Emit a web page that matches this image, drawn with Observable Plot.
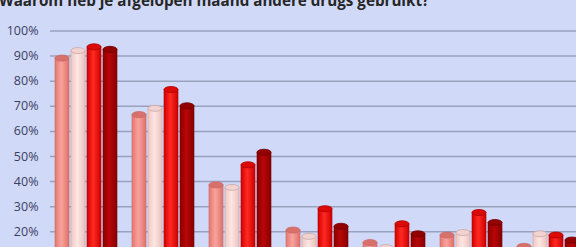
<!DOCTYPE html>
<html>
<head>
<meta charset="utf-8">
<script src="https://cdn.jsdelivr.net/npm/d3@7"></script>
<script src="https://cdn.jsdelivr.net/npm/@observablehq/plot@0.6"></script>
<style>
  html, body { margin: 0; padding: 0; background: #d1d9f9; overflow: hidden; }
  #wrap { position: relative; width: 576px; height: 247px; overflow: hidden; }
  #wrap svg { position: absolute; left: 0; top: 0; }
  #title { position: absolute; left: -1px; top: -10px; font: bold 15.2px/20px "Open Sans", sans-serif; color: #262626; white-space: nowrap; z-index: 2; }
</style>
</head>
<body>
<div id="wrap">
  <div id="title">Waarom heb je afgelopen maand andere drugs gebruikt?</div>
</div>
<script>
const title = "Waarom heb je afgelopen maand andere drugs gebruikt?";
const groups = ["Reden 1", "Reden 2", "Reden 3", "Reden 4", "Reden 5", "Reden 6", "Reden 7"];
const series = ["Reeks 1", "Reeks 2", "Reeks 3", "Reeks 4"];
const values1 = [89, 66.5, 38.5, 20.5, 15.5, 18.5, 14];
const values2 = [92, 69, 37.5, 18, 13.5, 19.5, 19];
const values3 = [93.5, 76.5, 46.5, 29, 23, 27.5, 18.5];
const values4 = [92.5, 70, 51.5, 22, 19, 23.5, 16.5];
const yTicks = [20, 30, 40, 50, 60, 70, 80, 90, 100];

const seriesValues = [values1, values2, values3, values4];
const data = [];
groups.forEach((g, gi) => series.forEach((s, si) => data.push({group: g, series: s, value: seriesValues[si][gi]})));

// styling
const gradStops = [
  ["#e57670", "#f7a39c", "#e0706a"],
  ["#efc6c2", "#fde6e3", "#ecc2be"],
  ["#d40000", "#ff2a22", "#cc0000"],
  ["#8e0000", "#b80606", "#880000"]
];
const edgeColors = ["#c86a66", "#c8a8a6", "#b00000", "#700000"];
const capColors = ["#d8706c", "#f2d2cf", "#dc0a06", "#920000"];

const yScale = {domain: [0, 100], range: [281.5, 30.5]};
const wrap = document.getElementById("wrap");

const gridPlot = Plot.plot({
  width: 576, height: 247,
  marginLeft: 50, marginRight: 0, marginTop: 0, marginBottom: 0,
  style: {background: "transparent", fontFamily: "'Open Sans', sans-serif"},
  y: {...yScale, axis: null},
  marks: [
    Plot.ruleY(yTicks, {stroke: "#9aa1bd", strokeWidth: 1.5}),
    Plot.axisY(yTicks, {tickSize: 0, tickPadding: 12, tickFormat: d => d + "%", fontSize: 12.5, fill: "#3a4160"})
  ]
});
wrap.appendChild(gridPlot);

const barPlot = Plot.plot({
  width: 576, height: 247,
  marginLeft: 0, marginRight: 0, marginTop: 0, marginBottom: 0,
  style: {background: "transparent"},
  fx: {domain: groups, range: [37.5, 595.5], paddingInner: 0.2, paddingOuter: 0.2, axis: null},
  x: {domain: series, paddingInner: 0.125, paddingOuter: 0, axis: null},
  y: {...yScale, axis: null},
  color: {domain: series, range: series.map((s, i) => `url(#cyl${i})`)},
  marks: [
    Plot.barY(data, {fx: "group", x: "series", y1: 0, y2: "value", fill: "series",
      stroke: d => edgeColors[series.indexOf(d.series)], strokeWidth: 0.6}),
    Plot.barY(data, {fx: "group", x: "series", y1: "value", y2: "value", insetTop: -3, insetBottom: -3, rx: 7,
      fill: d => capColors[series.indexOf(d.series)], stroke: d => edgeColors[series.indexOf(d.series)], strokeWidth: 0.8})
  ]
});
const defs = d3.select(barPlot).insert("defs", ":first-child");
gradStops.forEach((st, i) => {
  const lg = defs.append("linearGradient").attr("id", `cyl${i}`).attr("x1", "0").attr("x2", "1").attr("y1", "0").attr("y2", "0");
  lg.append("stop").attr("offset", "0%").attr("stop-color", st[0]);
  lg.append("stop").attr("offset", "45%").attr("stop-color", st[1]);
  lg.append("stop").attr("offset", "100%").attr("stop-color", st[2]);
});
wrap.appendChild(barPlot);
</script>
</body>
</html>
